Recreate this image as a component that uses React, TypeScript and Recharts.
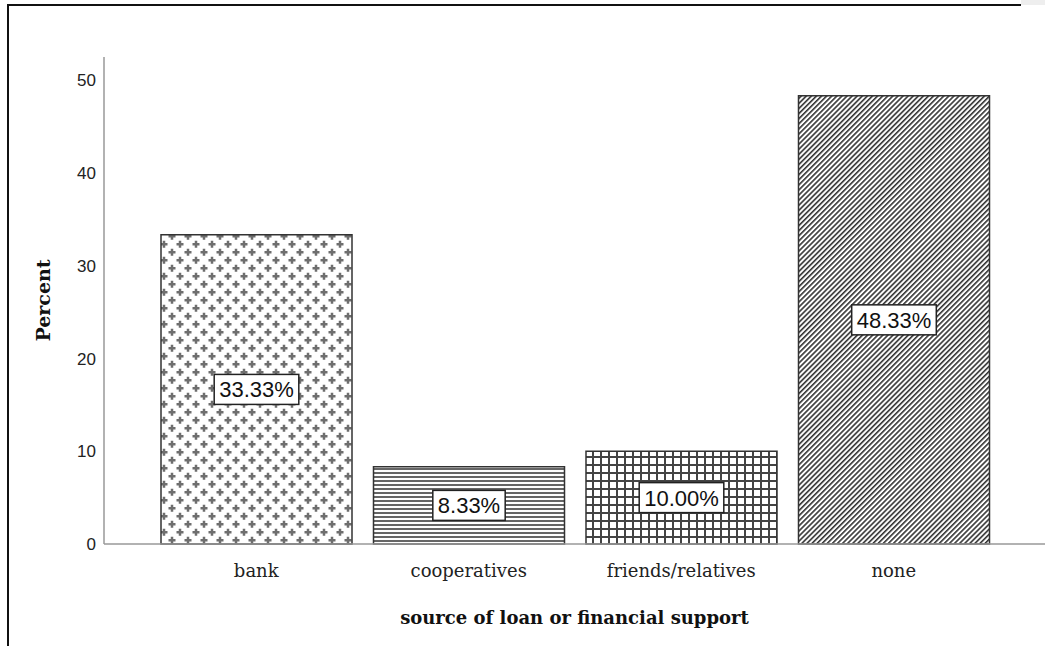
import React from 'react';
import { BarChart, Bar, XAxis, YAxis, Cell, LabelList } from 'recharts';

const categories = ['bank', 'cooperatives', 'friends/relatives', 'none'];
const percents = [33.33, 8.33, 10.0, 48.33];
const patternIds = ['patBank', 'patCoop', 'patFriends', 'patNone'];
const yTicks = [0, 10, 20, 30, 40, 50];

const data = categories.map((name, i) => ({ name, value: percents[i] }));

const LABEL_FONT = 22;
const charW = (c: string) => (c === '.' ? 0.278 : c === '%' ? 0.889 : 0.556);

const BoxLabel = (props: any) => {
  const { x, y, width, height, value } = props;
  const txt = `${Number(value).toFixed(2)}%`;
  const tw = txt.split('').reduce((s, c) => s + charW(c) * LABEL_FONT, 0);
  const bw = tw + 10;
  const bh = 30;
  const cx = x + width / 2;
  const cy = y + height / 2;
  return (
    <g>
      <rect x={cx - bw / 2} y={cy - bh / 2} width={bw} height={bh} fill="#fff" stroke="#222" strokeWidth={1.5} />
      <text x={cx} y={cy + 8} textAnchor="middle" fontFamily="Liberation Sans, Arial, sans-serif" fontSize={LABEL_FONT} fill="#111">
        {txt}
      </text>
    </g>
  );
};

const YTitle = (props: any) => {
  const vb = props.viewBox || { x: 0, y: 0, width: 0, height: 0 };
  const cx = vb.x + 43;
  const cy = vb.y + vb.height / 2;
  return (
    <text x={cx} y={cy} transform={`rotate(-90 ${cx} ${cy})`} textAnchor="middle" dominantBaseline="central"
      fontFamily="DejaVu Serif, serif" fontWeight="bold" fontSize={19} fill="#111">
      Percent
    </text>
  );
};

const XTitle = (props: any) => {
  const vb = props.viewBox || { x: 0, y: 0, width: 0, height: 0 };
  const cx = vb.x + vb.width / 2;
  return (
    <text x={cx} y={vb.y + 80} textAnchor="middle"
      fontFamily="DejaVu Serif, serif" fontWeight="bold" fontSize={18} fill="#111">
      source of loan or financial support
    </text>
  );
};

export default function App() {
  return (
    <div style={{ position: 'absolute', left: 0, top: 0, width: 1045, height: 646, background: '#fff', overflow: 'hidden' }}>
      <svg width={0} height={0} style={{ position: 'absolute' }}>
        <defs>
          <pattern id="patBank" patternUnits="userSpaceOnUse" width={16} height={16}>
            <rect width={16} height={16} fill="#fff" />
            <rect x={0.5} y={3} width={7} height={2.5} fill="#6e6e6e" />
            <rect x={2.75} y={0.75} width={2.5} height={7} fill="#6e6e6e" />
            <rect x={8.5} y={11} width={7} height={2.5} fill="#6e6e6e" />
            <rect x={10.75} y={8.75} width={2.5} height={7} fill="#6e6e6e" />
          </pattern>
          <pattern id="patCoop" patternUnits="userSpaceOnUse" width={8} height={4}>
            <rect width={8} height={4} fill="#fff" />
            <rect y={0} width={8} height={2} fill="#666" />
          </pattern>
          <pattern id="patFriends" patternUnits="userSpaceOnUse" width={8} height={8}>
            <rect width={8} height={8} fill="#fff" />
            <rect x={0} y={0} width={2} height={8} fill="#444" />
            <rect x={0} y={0} width={8} height={2} fill="#444" />
          </pattern>
          <pattern id="patNone" patternUnits="userSpaceOnUse" width={3.6} height={3.6} patternTransform="rotate(45)">
            <rect width={3.6} height={3.6} fill="#fff" />
            <rect x={0} y={0} width={1.6} height={3.6} fill="#333" />
          </pattern>
        </defs>
      </svg>
      <div style={{ position: 'absolute', left: 7, top: 4, width: 1012, height: 660, borderTop: '2px solid #111', borderLeft: '2px solid #111' }} />
      <div style={{ position: 'absolute', left: 1021, top: 0, width: 24, height: 5, background: '#eee' }} />
      <div style={{ position: 'absolute', left: 0, top: 0 }}>
        <BarChart width={1045} height={646} data={data} margin={{ top: 57, right: 0, bottom: 0, left: 0 }} barSize={191}>
          <XAxis dataKey="name" height={102} axisLine={{ stroke: '#999', strokeWidth: 1.5 }} tickLine={false} tickMargin={14}
            padding={{ left: 46, right: 45 }}
            tick={{ fontFamily: 'DejaVu Serif, serif', fontSize: 18, fill: '#222' }}
            label={{ content: <XTitle /> } as any} />
          <YAxis width={104} domain={[0, 52.5]} ticks={yTicks} axisLine={{ stroke: '#999', strokeWidth: 1.5 }} tickLine={false}
            tick={{ fontFamily: 'Liberation Sans, Arial, sans-serif', fontSize: 17, fill: '#222' }}
            label={{ content: <YTitle /> } as any} />
          <Bar dataKey="value" stroke="#333" strokeWidth={1.5} isAnimationActive={false}>
            {data.map((d, i) => (
              <Cell key={d.name} fill={`url(#${patternIds[i]})`} />
            ))}
            <LabelList dataKey="value" content={<BoxLabel />} />
          </Bar>
        </BarChart>
      </div>
    </div>
  );
}
